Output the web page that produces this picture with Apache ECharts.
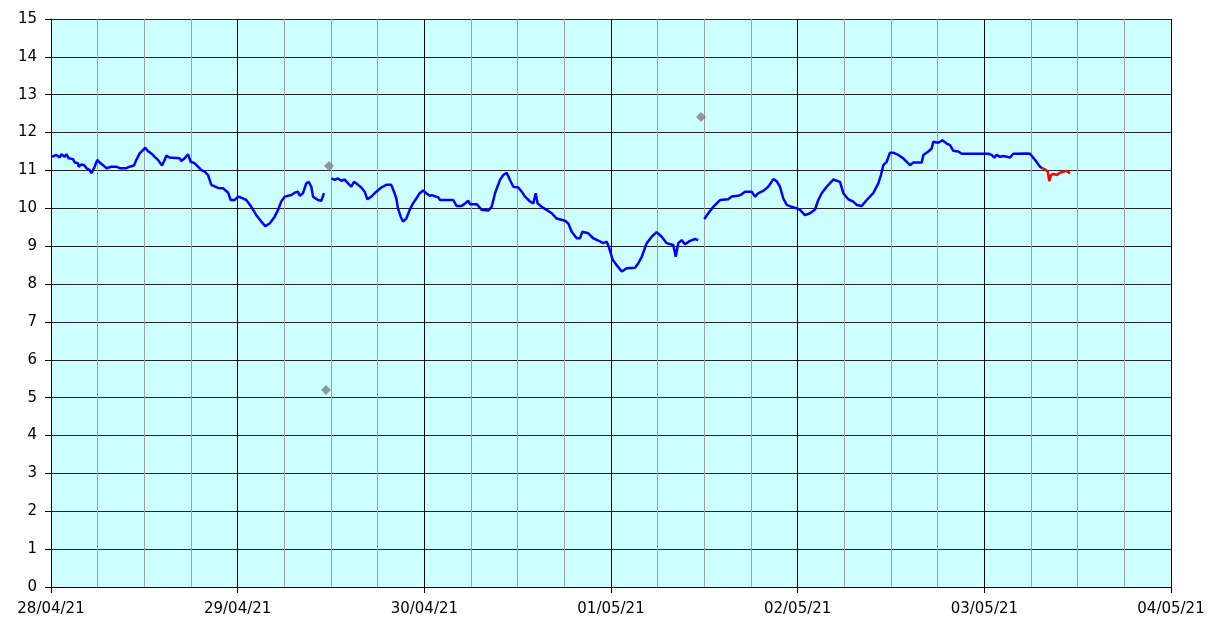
<!DOCTYPE html>
<html>
<head>
<meta charset="utf-8">
<script src="https://cdn.jsdelivr.net/npm/echarts@6/dist/echarts.min.js"></script>
<style>
html,body{margin:0;padding:0;background:#fff;}
#chart{width:1211px;height:621px;}
</style>
</head>
<body>
<div id="chart"></div>
<script>
// x values are hours since 28/04/21 00:00
var dateLabels = ['28/04/21','29/04/21','30/04/21','01/05/21','02/05/21','03/05/21','04/05/21'];
var yTicks = [0,1,2,3,4,5,6,7,8,9,10,11,12,13,14,15];

var blueHours = [
0.13,0.68,1.12,1.32,1.76,1.97,2.28,2.83,3.05,3.47,3.56,3.90,4.33,4.54,4.98,5.18,5.53,5.95,6.26,6.69,7.11,7.75,8.40,8.83,9.68,10.12,10.67,10.97,11.40,11.83,12.12,12.47,12.90,13.33,13.76,14.27,14.62,14.82,15.26,16.55,16.75,17.19,17.61,17.96,18.48,18.90,19.32,19.76,20.19,20.61,21.47,22.11,22.76,23.10,23.62,24.04,24.47,25.11,25.75,26.40,27.04,27.55,28.12,28.76,29.19,29.61,30.05,30.90,31.33,31.76,31.98,32.40,32.82,33.13,33.47,33.69,34.33,34.75,35.10,
35.5,
36.04,36.48,36.90,37.32,37.76,38.19,38.61,38.96,39.47,39.90,40.33,40.67,41.18,41.82,42.47,43.11,43.75,44.10,44.40,44.61,44.96,45.26,45.68,46.12,46.54,46.97,47.40,47.83,48.25,48.69,48.95,49.80,50.01,51.72,52.16,52.80,53.23,53.65,53.87,54.73,55.38,56.22,56.66,57.09,57.73,58.15,58.59,59.01,59.44,60.08,60.52,60.94,61.59,62.01,62.32,62.57,63.09,63.73,64.38,65.02,66.09,66.51,66.95,67.59,68.01,68.31,69.08,69.72,70.37,71.01,71.45,71.74,72.22,72.73,73.38,74.02,75.09,75.51,75.95,76.59,77.23,77.87,78.52,79.16,80.01,80.32,80.65,81.09,81.51,82.16,82.80,83.22,
83.6,
84.00,84.51,85.15,86.01,87.08,87.52,88.37,88.80,89.23,90.09,90.51,90.94,91.58,92.22,92.87,93.30,93.73,94.15,94.59,95.23,95.87,96.30,96.94,97.59,98.23,98.65,99.09,99.73,100.58,101.44,101.87,102.51,103.15,103.59,104.23,104.88,105.72,106.37,106.71,107.01,107.44,107.87,108.29,108.94,109.58,110.44,110.87,111.95,112.16,112.80,113.23,113.44,114.08,114.60,115.16,115.59,116.01,116.65,117.09,120.51,120.94,121.28,121.59,122.01,122.44,123.30,123.72,125.45,125.87,126.51,127.16,127.45
];
var blueLevel = [
11.36,11.41,11.34,11.43,11.36,11.43,11.32,11.30,11.21,11.19,11.10,11.16,11.13,11.06,11.01,10.93,11.06,11.28,11.21,11.14,11.06,11.10,11.10,11.06,11.06,11.10,11.13,11.28,11.45,11.54,11.60,11.51,11.45,11.36,11.28,11.13,11.28,11.39,11.34,11.32,11.25,11.32,11.43,11.23,11.19,11.10,11.01,10.97,10.88,10.62,10.54,10.53,10.42,10.22,10.22,10.31,10.28,10.22,10.04,9.82,9.65,9.53,9.60,9.78,9.96,10.18,10.31,10.35,10.41,10.44,10.33,10.40,10.66,10.70,10.57,10.31,10.22,10.20,10.40,
null,
10.79,10.75,10.79,10.73,10.76,10.66,10.57,10.70,10.62,10.55,10.44,10.24,10.31,10.44,10.55,10.62,10.62,10.44,10.26,10.00,9.78,9.65,9.73,9.96,10.13,10.26,10.40,10.47,10.40,10.33,10.35,10.29,10.22,10.22,10.06,10.06,10.13,10.20,10.11,10.11,9.96,9.94,10.04,10.40,10.75,10.88,10.94,10.75,10.57,10.55,10.44,10.31,10.18,10.13,10.40,10.13,10.04,9.96,9.87,9.73,9.67,9.60,9.38,9.21,9.21,9.38,9.34,9.21,9.15,9.08,9.12,8.97,8.64,8.50,8.33,8.42,8.43,8.55,8.72,9.08,9.25,9.37,9.25,9.08,9.03,8.72,9.08,9.16,9.05,9.14,9.19,9.16,
null,
9.72,9.87,10.04,10.22,10.24,10.31,10.33,10.37,10.44,10.44,10.31,10.40,10.46,10.57,10.77,10.72,10.57,10.26,10.09,10.04,10.00,9.96,9.82,9.87,9.97,10.22,10.40,10.57,10.76,10.70,10.40,10.24,10.18,10.09,10.06,10.22,10.40,10.66,10.88,11.14,11.23,11.47,11.47,11.41,11.32,11.14,11.21,11.21,11.41,11.50,11.58,11.76,11.73,11.80,11.71,11.67,11.52,11.50,11.44,11.44,11.41,11.34,11.41,11.36,11.38,11.34,11.44,11.45,11.44,11.28,11.10,11.06
];

var redHours = [127.45,127.80,128.15,128.35,128.57,128.87,129.31,129.73,130.16,130.59,130.76,131.01];
var redLevel = [11.06,11.03,10.97,10.72,10.88,10.91,10.88,10.94,10.97,10.99,10.95,10.92];

var outlierHours = [35.74,35.36,83.57];
var outlierLevel = [11.12,5.20,12.41];

function pairs(xs, ys){ var out=[]; for(var i=0;i<xs.length;i++){ out.push([xs[i], ys[i]===null?null:ys[i]]); } return out; }

var font = 'DejaVu Sans, Verdana, sans-serif';
var chart = echarts.init(document.getElementById('chart'), null, {renderer:'canvas'});
chart.setOption({
  animation: false,
  backgroundColor: '#ffffff',
  grid: {left: 51, right: 40, top: 19, bottom: 34, show: true, backgroundColor: '#CCFFFF', borderWidth: 0},
  xAxis: {
    type: 'value', min: 0, max: 144, interval: 24,
    axisLine: {show: true, onZero: false, lineStyle: {color: '#000', width: 1}},
    axisTick: {show: true, length: 6, lineStyle: {color: '#000'}},
    axisLabel: {color: '#000', fontFamily: font, fontSize: 15, margin: 15,
      formatter: function(v){ return dateLabels[Math.round(v/24)] || ''; }},
    splitLine: {show: true, lineStyle: {color: '#000', width: 1}},
    minorTick: {show: false, splitNumber: 4},
    minorSplitLine: {show: true, lineStyle: {color: '#A0A0A0', width: 1}}
  },
  yAxis: {
    type: 'value', min: yTicks[0], max: yTicks[yTicks.length-1], interval: 1,
    axisLine: {show: true, lineStyle: {color: '#000', width: 1}},
    axisTick: {show: true, length: 6, lineStyle: {color: '#000'}},
    axisLabel: {color: '#000', fontFamily: font, fontSize: 15, margin: 14},
    splitLine: {show: true, lineStyle: {color: '#222', width: 1}}
  },
  series: [
    {type: 'line', data: pairs(blueHours, blueLevel), showSymbol: false, connectNulls: false,
     lineStyle: {color: '#0000FF', width: 2.5}, itemStyle: {color: '#0000FF'}, z: 3},
    {type: 'line', data: pairs(redHours, redLevel), showSymbol: false,
     lineStyle: {color: '#FF0000', width: 2.5}, itemStyle: {color: '#FF0000'}, z: 4},
    {type: 'scatter', data: pairs(outlierHours, outlierLevel), symbol: 'diamond', symbolSize: 10,
     itemStyle: {color: '#808080'}, z: 5}
  ]
});
</script>
</body>
</html>
